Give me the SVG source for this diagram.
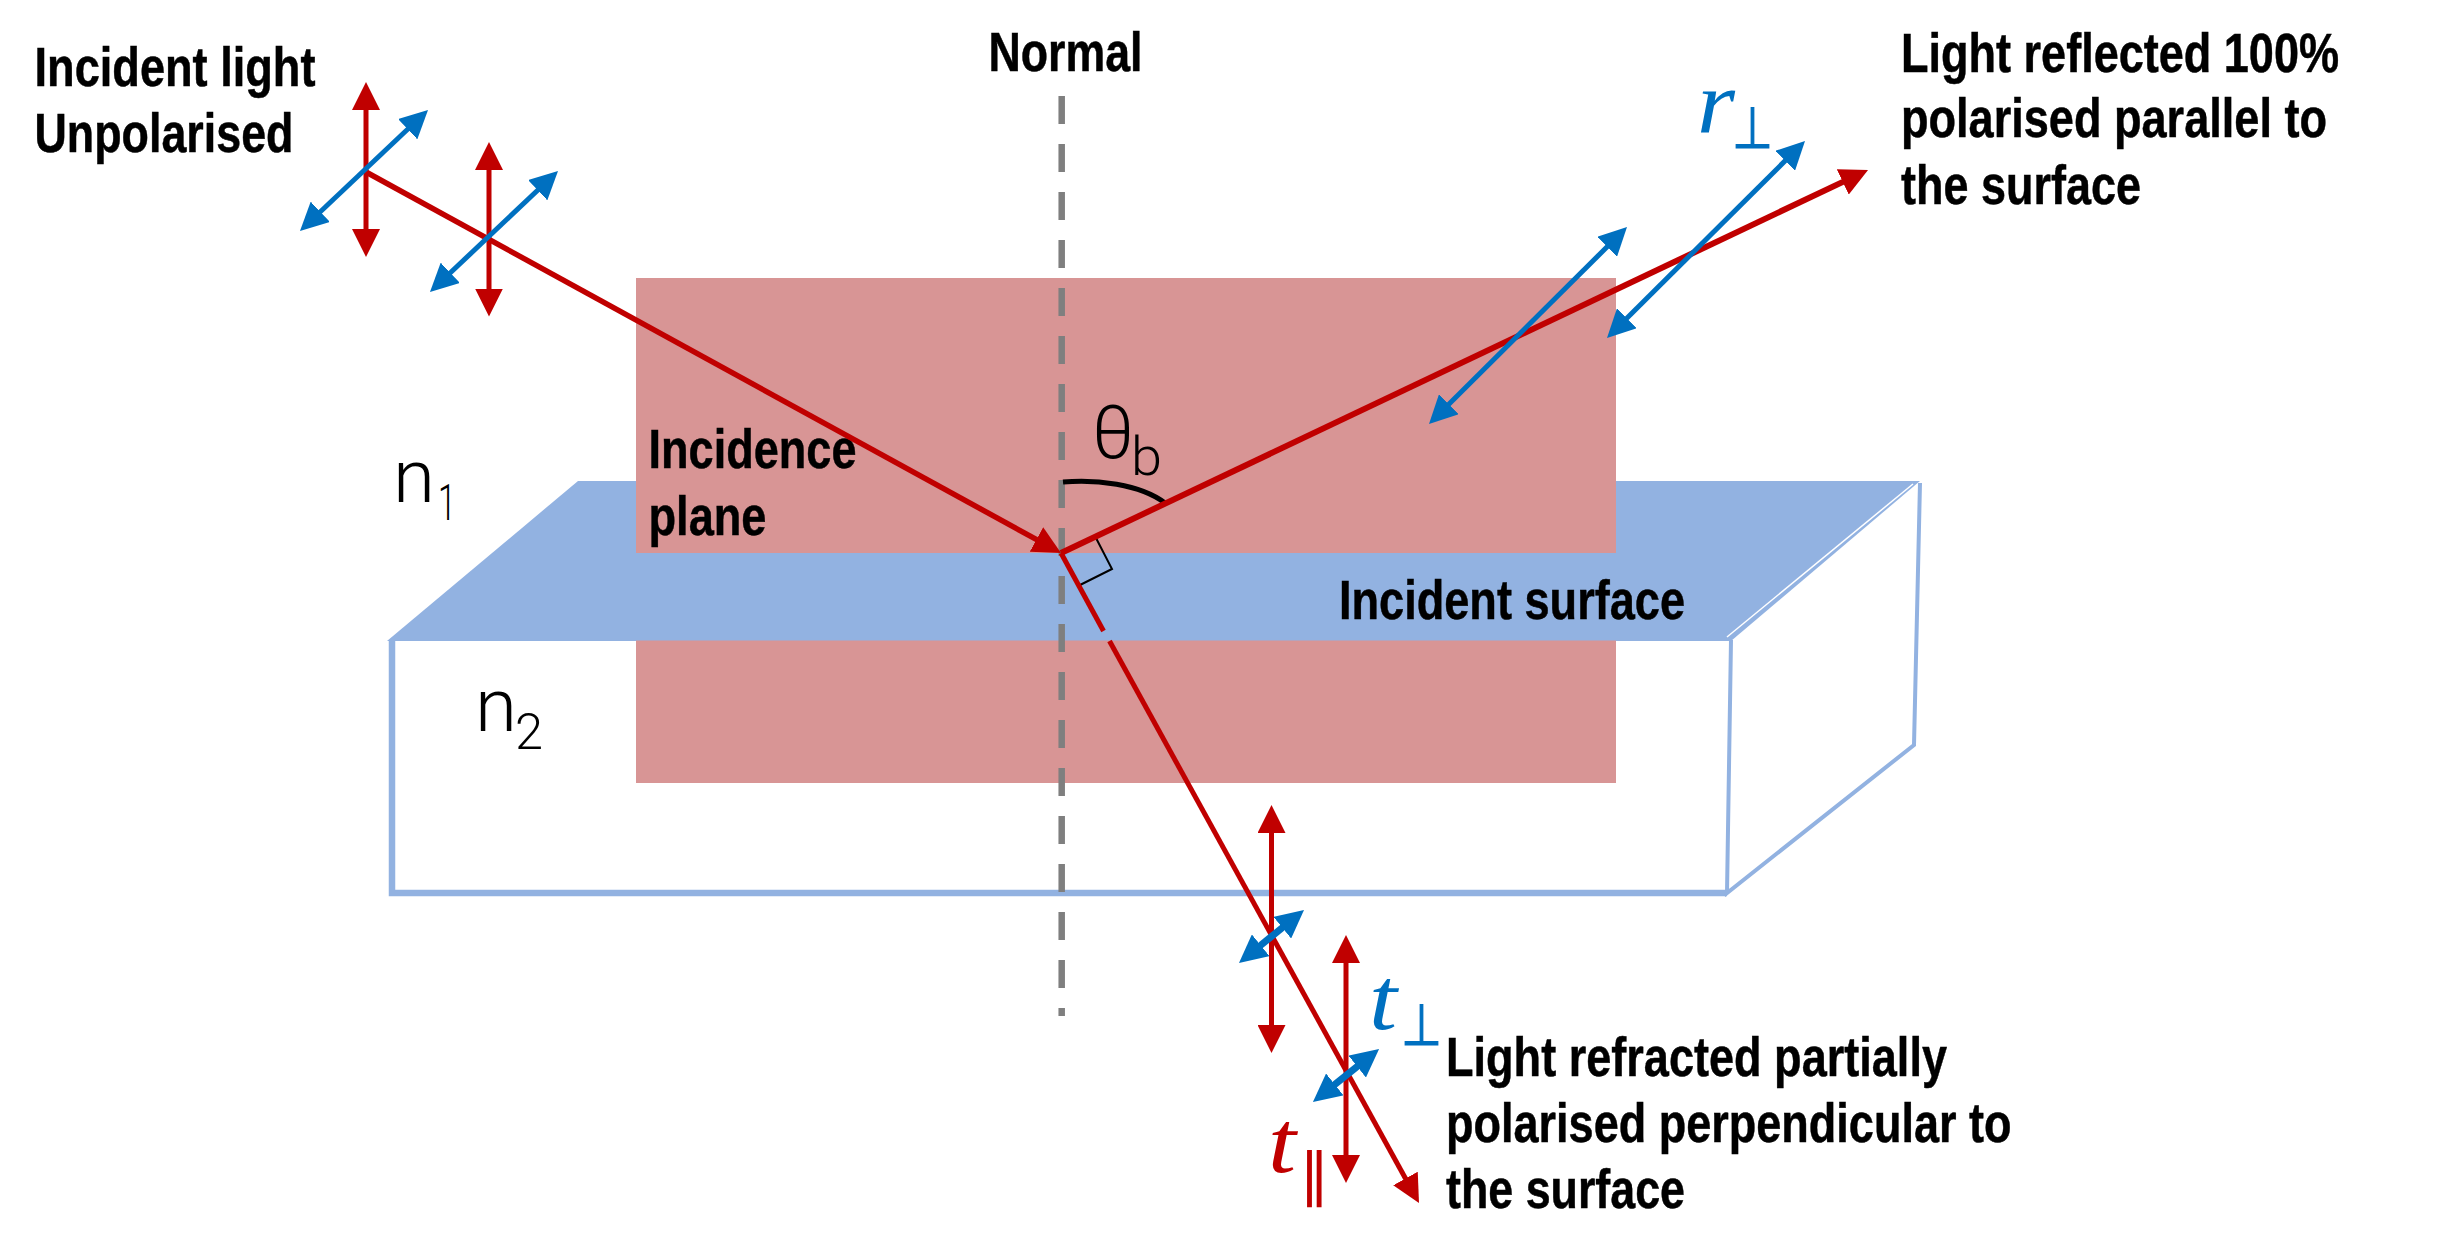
<svg xmlns="http://www.w3.org/2000/svg" width="2440" height="1253" viewBox="0 0 2440 1253">
<style>
.lbl{font-family:"Liberation Sans",Arial,sans-serif;font-weight:700;font-size:55px;fill:#000;stroke:#000;stroke-width:.5}
.thin{font-family:Roboto,"Liberation Sans",sans-serif;font-weight:300;fill:#000}
.math{font-family:"Liberation Serif",serif;font-style:italic;font-size:88px}
.sym{font-family:"DejaVu Sans",sans-serif;font-size:58px;stroke-width:1}
.red{fill:#C00000}.blue{fill:#0070C0;stroke:#0070C0}
.math.red,.math.blue{stroke:none}
.r{stroke:#C00000;fill:none}.b{stroke:#0070C0;fill:none;marker-start:url(#hb);marker-end:url(#hb)}
.rv{stroke:#C00000;stroke-width:5;fill:none;marker-start:url(#hr);marker-end:url(#hr)}
.edge{stroke:#92B2E1;fill:none}
</style>
<defs>
<marker id="hr" markerUnits="userSpaceOnUse" markerWidth="28" markerHeight="28" refX="16" refY="14" orient="auto-start-reverse"><path d="M0,0L28,14L0,28Z" fill="#C00000"/></marker>
<marker id="hb" markerUnits="userSpaceOnUse" markerWidth="28" markerHeight="28" refX="16" refY="14" orient="auto-start-reverse"><path d="M0,0L28,14L0,28Z" fill="#0070C0"/></marker>
</defs>
<rect width="2440" height="1253" fill="#fff"/>
<g id="box">
<path class="edge" stroke-width="6.5" d="M392,640V893H1727"/>
<path class="edge" stroke-width="4" d="M1731,640L1727,893L1914,745L1920,483"/>
</g>
<g id="incident-surface">
<path d="M578,481H1920L1731,641H387Z" fill="#92B2E1"/>
<path d="M1913,484L1727,637" stroke="#fff" stroke-width="1.5" fill="none"/>
</g>
<g id="incidence-plane"><rect x="636" y="278" width="980" height="505" fill="#D89595"/></g>
<g id="incident-surface-front">
<rect x="636" y="553" width="980" height="87.5" fill="#92B2E1"/>
<text class="lbl" x="1339" y="619" textLength="346" lengthAdjust="spacingAndGlyphs">Incident surface</text>
</g>
<g id="normal">
<path d="M1061.7,96V1016" stroke="#7F7F7F" stroke-width="6.5" stroke-dasharray="28 20" fill="none"/>
<text class="lbl" x="988.5" y="71" textLength="154" lengthAdjust="spacingAndGlyphs">Normal</text>
</g>
<g id="incident-label">
<text class="lbl" x="34.5" y="86" textLength="281" lengthAdjust="spacingAndGlyphs">Incident light</text>
<text class="lbl" x="34.5" y="151.5" textLength="259" lengthAdjust="spacingAndGlyphs">Unpolarised</text>
</g>
<g id="plane-label">
<text class="lbl" x="648.5" y="468" textLength="208" lengthAdjust="spacingAndGlyphs">Incidence</text>
<text class="lbl" x="648.5" y="534.5" textLength="118" lengthAdjust="spacingAndGlyphs">plane</text>
</g>
<g id="n1">
<text class="thin" x="393" y="502" font-size="74" textLength="42" lengthAdjust="spacingAndGlyphs">n</text>
<text class="thin" x="438" y="520" font-size="50" textLength="18" lengthAdjust="spacingAndGlyphs">1</text>
</g>
<g id="n2">
<text class="thin" x="475" y="731" font-size="74" textLength="42" lengthAdjust="spacingAndGlyphs">n</text>
<text class="thin" x="515" y="749" font-size="50" textLength="28" lengthAdjust="spacingAndGlyphs">2</text>
</g>
<g id="angle">
<path d="M1063,482C1095,479 1140,484 1165,503" fill="none" stroke="#000" stroke-width="5"/>
<path d="M1096,538L1112,569L1078,586" fill="none" stroke="#000" stroke-width="2"/>
<text class="thin" x="1092" y="458" font-size="74" textLength="42" lengthAdjust="spacingAndGlyphs">θ</text>
<text class="thin" x="1131" y="475" font-size="54" textLength="31" lengthAdjust="spacingAndGlyphs">b</text>
</g>
<g id="reflected-label">
<text class="lbl" x="1901" y="71.5" textLength="438" lengthAdjust="spacingAndGlyphs">Light reflected 100%</text>
<text class="lbl" x="1901" y="137" textLength="426" lengthAdjust="spacingAndGlyphs">polarised parallel to</text>
<text class="lbl" x="1901" y="204" textLength="240" lengthAdjust="spacingAndGlyphs">the surface</text>
</g>
<g id="refracted-label">
<text class="lbl" x="1446" y="1075.7" textLength="501" lengthAdjust="spacingAndGlyphs">Light refracted partially</text>
<text class="lbl" x="1446" y="1141.7" textLength="565.5" lengthAdjust="spacingAndGlyphs">polarised perpendicular to</text>
<text class="lbl" x="1446" y="1207.7" textLength="239" lengthAdjust="spacingAndGlyphs">the surface</text>
</g>
<g id="r-perp">
<text class="math blue" x="1697" y="132" textLength="38" lengthAdjust="spacingAndGlyphs">r</text>
<text class="sym blue" x="1732" y="148" textLength="41" lengthAdjust="spacingAndGlyphs">⊥</text>
</g>
<g id="t-perp">
<text class="math blue" x="1369" y="1029" textLength="28" lengthAdjust="spacingAndGlyphs">t</text>
<text class="sym blue" x="1401" y="1045" textLength="41" lengthAdjust="spacingAndGlyphs">⊥</text>
</g>
<g id="t-par">
<text class="math red" x="1268" y="1172" textLength="28" lengthAdjust="spacingAndGlyphs">t</text>
<text class="sym red" x="1299" y="1195" textLength="31" lengthAdjust="spacingAndGlyphs">∥</text>
</g>
<g id="connectors">
<line class="r" stroke-width="5.5" x1="366" y1="172" x2="1050.5" y2="547.2" marker-end="url(#hr)"/>
<line class="r" stroke-width="6" x1="1061" y1="553" x2="1857.2" y2="175.1" marker-end="url(#hr)"/>
<line class="r" stroke-width="5" x1="1061" y1="553" x2="1103.5" y2="631"/>
<line class="r" stroke-width="5" x1="1109.5" y1="641" x2="1413.2" y2="1192.5" marker-end="url(#hr)"/>
<line class="rv" x1="366" y1="94" x2="366" y2="245"/>
<line class="rv" x1="489" y1="154" x2="489" y2="304.5"/>
<line class="rv" x1="1271.5" y1="817" x2="1271.5" y2="1041"/>
<line class="rv" x1="1346" y1="947" x2="1346" y2="1171"/>
<line class="b" stroke-width="5" x1="308.7" y1="222.8" x2="419.3" y2="118.2"/>
<line class="b" stroke-width="5" x1="438.7" y1="283.8" x2="549.3" y2="179.2"/>
<line class="b" stroke-width="5" x1="1437.5" y1="415.5" x2="1618.5" y2="235.5"/>
<line class="b" stroke-width="5" x1="1615.5" y1="329.5" x2="1796.5" y2="149.5"/>
<line class="b" stroke-width="7" x1="1248.3" y1="955.4" x2="1294.7" y2="917.6"/>
<line class="b" stroke-width="7" x1="1322.3" y1="1094.4" x2="1369.7" y2="1056.6"/>
</g>
</svg>
